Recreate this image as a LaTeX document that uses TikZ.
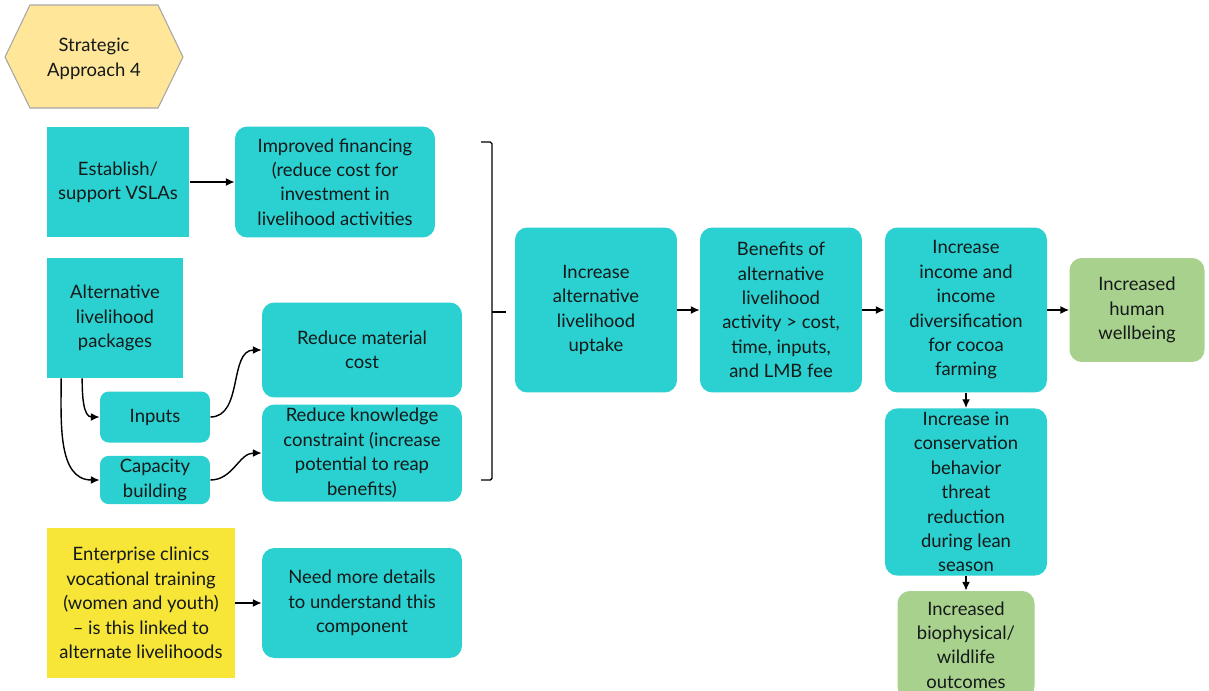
\documentclass[tikz,border=0pt]{standalone}
\usepackage{fontspec}
\setmainfont{Lato}
\usetikzlibrary{arrows.meta}

\definecolor{tealbox}{RGB}{43,208,208}
\definecolor{greenbox}{RGB}{169,209,142}
\definecolor{hexfill}{RGB}{255,230,153}
\definecolor{yellowbox}{RGB}{247,229,56}
\definecolor{ink}{RGB}{20,25,25}

\begin{document}
\begin{tikzpicture}[x=0.02cm, y=-0.02cm,
  box/.style={fill=tealbox, text=ink, align=center, inner sep=2pt,
    font=\fontsize{10.5}{13.9}\selectfont},
  rbox/.style={box, rounded corners=7pt},
  goal/.style={rbox, fill=greenbox},
  arr/.style={-{Latex[length=5pt,width=4.5pt]}, line width=0.8pt}]
  \useasboundingbox[fill=white] (0,0) rectangle (1209,690);

  % strategic approach tag
  \draw[fill=hexfill, draw=gray!70, line width=0.6pt]
    (5,57) -- (30,5) -- (158,5) -- (183,57) -- (158,108) -- (30,108) -- cycle;
  \node[text=ink, align=center, font=\fontsize{10.5}{13.9}\selectfont] (sa) at (94,59) {Strategic\\Approach 4};

  % left column
  \node[box, minimum width=2.86cm, minimum height=2.22cm] (vsla) at (118,182) {Establish/\\support VSLAs};
  \node[rbox, minimum width=4.0cm, minimum height=2.22cm] (fin) at (335,182)
    {Improved financing\\(reduce cost for\\investment in\\livelihood activities};
  \node[box, minimum width=2.74cm, minimum height=2.4cm] (pkg) at (115,318)
    {Alternative\\livelihood\\packages};
  \node[rbox, rounded corners=5pt, minimum width=2.2cm, minimum height=1.02cm] (inp) at (155,417) {Inputs};
  \node[rbox, rounded corners=5pt, minimum width=2.2cm, minimum height=0.92cm] (cap) at (155,480) {Capacity\\building};
  \node[rbox, minimum width=4.0cm, minimum height=1.9cm] (mat) at (362,350) {Reduce material\\cost};
  \node[rbox, minimum width=4.0cm, minimum height=1.94cm] (know) at (362,453)
    {Reduce knowledge\\constraint (increase\\potential to reap\\benefits)};
  \node[box, fill=yellowbox, minimum width=3.76cm, minimum height=3.0cm] (ent) at (141,603)
    {Enterprise clinics\\vocational training\\(women and youth)\\-- is this linked to\\alternate livelihoods};
  \node[rbox, minimum width=4.0cm, minimum height=2.2cm] (need) at (362,603)
    {Need more details\\to understand this\\component};

  % main chain
  \node[rbox, minimum width=3.24cm, minimum height=3.3cm] (upt) at (596,310)
    {Increase\\alternative\\livelihood\\uptake};
  \node[rbox, minimum width=3.24cm, minimum height=3.3cm] (ben) at (781,310)
    {Benefits of\\alternative\\livelihood\\activity > cost,\\time, inputs,\\and LMB fee};
  \node[rbox, minimum width=3.24cm, minimum height=3.3cm] (inc) at (966,310)
    {Increase\\income and\\income\\diversification\\for cocoa\\farming};
  \node[goal, minimum width=2.7cm, minimum height=2.08cm] (well) at (1137,310)
    {Increased\\human\\wellbeing};
  \node[rbox, minimum width=3.24cm, minimum height=3.3cm] (cons) at (966,492)
    {Increase in\\conservation\\behavior\\threat\\reduction\\during lean\\season};
  \node[goal, minimum width=2.74cm, minimum height=2.16cm] (bio) at (966,645)
    {Increased\\biophysical/\\wildlife\\outcomes};

  % bracket
  \coordinate (bt) at (481,142);
  \coordinate (bb) at (481,480);
  \coordinate (bm) at (506,312);
  \draw[line width=0.8pt, rounded corners=1pt] (bt) -- (492,142) -- (492,480) -- (bb);
  \draw[line width=0.8pt] (492,312) -- (bm);

  % connectors
  \draw[arr] (vsla) -- (fin);
  \draw[arr] (pkg.south west) ++(36,0) to[out=-90, in=180] (inp.west);
  \draw[arr] (pkg.south west) ++(15,0) to[out=-90, in=180] (cap.west);
  \draw[arr] (inp.east) to[out=0, in=180] (mat.west);
  \draw[arr] (cap.east) to[out=0, in=180] (know.west);
  \draw[arr] (ent) -- (need);
  \draw[arr] (upt) -- (ben);
  \draw[arr] (ben) -- (inc);
  \draw[arr] (inc) -- (well);
  \draw[arr] (inc) -- (cons);
  \draw[arr] (cons) -- (bio);
\end{tikzpicture}
\end{document}
